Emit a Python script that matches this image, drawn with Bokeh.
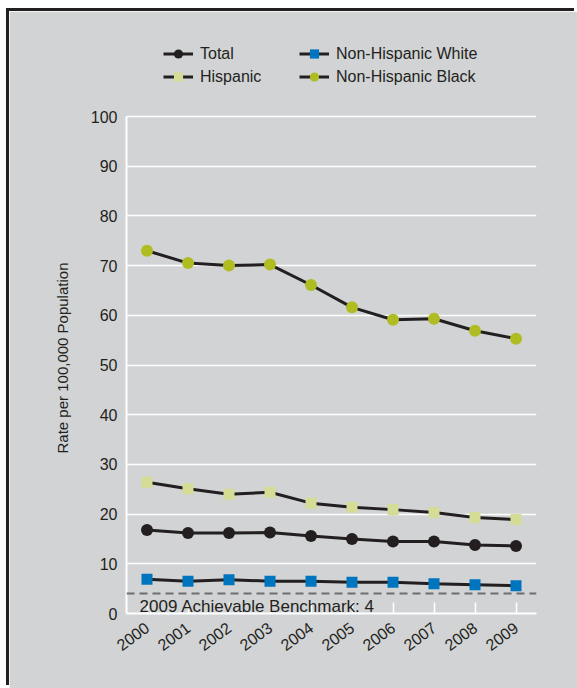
from bokeh.plotting import figure
from bokeh.models import Legend, LegendItem, FixedTicker, Span, Label, Range1d, Title
from bokeh.embed import file_html
from bokeh.resources import INLINE

years = [2000, 2001, 2002, 2003, 2004, 2005, 2006, 2007, 2008, 2009]
total = [16.8, 16.2, 16.2, 16.3, 15.6, 15.0, 14.5, 14.5, 13.8, 13.6]
hispanic = [26.4, 25.1, 24.0, 24.4, 22.2, 21.4, 20.9, 20.3, 19.3, 18.9]
nh_white = [6.9, 6.5, 6.8, 6.5, 6.5, 6.3, 6.3, 6.0, 5.8, 5.6]
nh_black = [73.0, 70.5, 70.0, 70.2, 66.1, 61.6, 59.1, 59.3, 56.9, 55.3]
benchmark = 4
benchmark_label = "2009 Achievable Benchmark: 4"
y_label = "Rate per 100,000 Population"
y_ticks = [0, 10, 20, 30, 40, 50, 60, 70, 80, 90, 100]
y_max = 100

BG = "#d1d3d4"
INK = "#231f20"
FONT = "Liberation Sans"

# frame is extended upward (same colour as border) so the legend sits inside it
FRAME_H = 583
AXIS_H = 497
y_top = y_max * FRAME_H / AXIS_H

p = figure(width=568, height=677, output_backend="svg", toolbar_location=None,
           x_range=Range1d(1999.5, 2009.5), y_range=Range1d(0, y_top),
           min_border_left=117, min_border_right=41, min_border_top=19, min_border_bottom=75)
p.background_fill_color = BG
p.border_fill_color = BG
p.outline_line_color = BG
p.outline_line_width = 2
p.styles = {"margin-left": "9px", "margin-top": "11px",
            "box-shadow": "-3px -3px 0 0 #231f20"}

# grid
p.xgrid.grid_line_color = None
p.ygrid.grid_line_color = "white"
p.ygrid.grid_line_width = 1.5
p.ygrid.ticker = FixedTicker(ticks=y_ticks)

# axes
p.xaxis.ticker = FixedTicker(ticks=years)
p.yaxis.ticker = FixedTicker(ticks=y_ticks)
p.yaxis.bounds = (0, y_max)
for ax in (p.xaxis[0], p.yaxis[0]):
    ax.axis_line_color = "white"
    ax.axis_line_width = 2
    ax.major_label_text_font = FONT
    ax.major_label_text_font_size = "16px"
    ax.major_label_text_color = INK
    ax.minor_tick_line_color = None
p.xaxis.major_tick_line_color = "white"
p.xaxis.major_tick_line_width = 1.5
p.xaxis.major_tick_in = 11
p.xaxis.major_tick_out = 0
p.xaxis.major_label_orientation = 0.64
p.xaxis.major_label_standoff = 12
p.yaxis.major_tick_line_color = None
p.yaxis.major_label_standoff = 3

# y-axis title, aligned with the 0..100 part of the frame
yt = Title(text=y_label, align="left", offset=160, standoff=34,
           text_font=FONT, text_font_size="15px", text_font_style="normal",
           text_color=INK)
p.add_layout(yt, "left")

# benchmark
p.add_layout(Span(location=benchmark, dimension="width", line_color="#6d6e71",
                  line_width=2, line_dash="8 5"))
p.add_layout(Label(x=1999.82, y=1.5, text=benchmark_label, text_font=FONT,
                   text_font_size="17px", text_color=INK, text_baseline="alphabetic"))

series = [
    ("Total", total, "circle", INK, 12),
    ("Hispanic", hispanic, "square", "#d5dc95", 11),
    ("Non-Hispanic White", nh_white, "square", "#0075bf", 11),
    ("Non-Hispanic Black", nh_black, "circle", "#afbd22", 12),
]
items = []
for name, vals, marker, color, size in series:
    ln = p.line(years, vals, line_color=INK, line_width=3)
    sc = p.scatter(years, vals, marker=marker, size=size, fill_color=color, line_color=None)
    items.append(LegendItem(label=name, renderers=[ln, sc]))

def make_legend(its, x):
    lg = Legend(items=its, location=(x, 525), orientation="vertical")
    lg.background_fill_alpha = 0
    lg.border_line_alpha = 0
    lg.padding = 0
    lg.margin = 0
    lg.spacing = 0
    lg.glyph_width = 30
    lg.glyph_height = 23
    lg.label_height = 23
    lg.label_standoff = 7
    lg.label_text_font = FONT
    lg.label_text_font_size = "16px"
    lg.label_text_color = INK
    return lg

p.add_layout(make_legend([items[0], items[1]], 37), "center")
p.add_layout(make_legend([items[2], items[3]], 173), "center")

open("out.html", "w").write(file_html(p, INLINE))
